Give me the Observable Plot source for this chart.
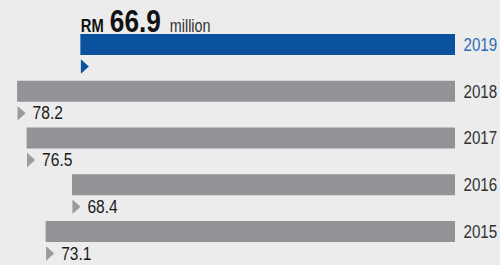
<!DOCTYPE html>
<html>
<head>
<meta charset="utf-8">
<script src="https://cdn.jsdelivr.net/npm/d3@7"></script>
<script src="https://cdn.jsdelivr.net/npm/@observablehq/plot@0.6"></script>
<style>
  html, body { margin: 0; padding: 0; background: #ececec; }
</style>
</head>
<body>
<div id="chart"></div>
<script>
const years = ["2019", "2018", "2017", "2016", "2015"];
const values = [66.9, 78.2, 76.5, 68.4, 73.1];
const barColors = ["#0a519e", "#939397", "#939397", "#939397", "#939397"];
const yearColors = ["#2d6cb3", "#333333", "#333333", "#333333", "#333333"];
const markerColors = ["#0a519e", "#9a9a9d", "#9a9a9d", "#9a9a9d", "#9a9a9d"];
const titlePrefix = "RM";
const titleUnit = "million";

const data = years.map((year, i) => ({
  year, value: values[i], bar: barColors[i], ycol: yearColors[i], mcol: markerColors[i]
}));

const tri = {
  draw(context, size) {
    const r = Math.sqrt(size / Math.PI);
    context.moveTo(-0.55 * r, -r);
    context.lineTo(0.55 * r, 0);
    context.lineTo(-0.55 * r, r);
    context.closePath();
  }
};

const font = "'Liberation Sans', Arial, sans-serif";

const chart = Plot.plot({
  width: 500,
  height: 265,
  marginTop: 34,
  marginBottom: 23,
  marginLeft: 0,
  marginRight: 45,
  style: { background: "#ececec", fontFamily: font },
  x: { domain: [0, 455 / 5.6], range: [455, 0], axis: null },
  y: { domain: years, paddingInner: 0.551, paddingOuter: 0, round: false, axis: null },
  color: { type: "identity" },
  marks: [
    Plot.barX(data, { x1: 0, x2: "value", y: "year", fill: "bar" }),
    Plot.dot(data, { x: "value", y: "year", dx: 4, dy: 21.5, r: 7.3, symbol: tri, fill: "mcol", stroke: null }),
    Plot.text(data.slice(1), { x: "value", y: "year", text: d => d.value.toFixed(1), dx: 15, dy: 21.5, textAnchor: "start", fontSize: 19, fill: "#1a1a1a" }),
    Plot.text(data, { x: 0, y: "year", text: "year", dx: 8, textAnchor: "start", fontSize: 18.5, fill: "ycol" }),
    Plot.text(data.slice(0, 1), { x: "value", y: "year", text: d => titlePrefix, dx: 0, dy: -13, lineAnchor: "bottom", textAnchor: "start", fontSize: 18, fontWeight: "bold", fill: "#111" }),
    Plot.text(data.slice(0, 1), { x: "value", y: "year", text: d => d.value.toFixed(1), dx: 29, dy: -12.5, lineAnchor: "bottom", textAnchor: "start", fontSize: 32, fontWeight: "bold", fill: "#111" }),
    Plot.text(data.slice(0, 1), { x: "value", y: "year", text: d => titleUnit, dx: 89, dy: -13, lineAnchor: "bottom", textAnchor: "start", fontSize: 17.5, fill: "#333" })
  ]
});

// condense the glyphs horizontally (the reference uses a condensed face)
const sx = 0.82;
chart.querySelectorAll("text").forEach(t => {
  const tr = t.getAttribute("transform");
  if (tr) {
    t.setAttribute("transform", tr + ` scale(${sx},1)`);
  } else {
    const x = +(t.getAttribute("x") || 0), y = +(t.getAttribute("y") || 0);
    t.removeAttribute("x"); t.removeAttribute("y");
    t.setAttribute("transform", `translate(${x},${y}) scale(${sx},1)`);
  }
});
document.getElementById("chart").appendChild(chart);
</script>
</body>
</html>
